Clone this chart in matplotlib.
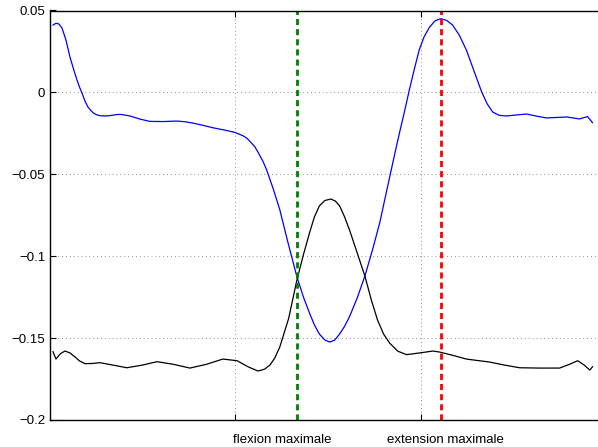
import matplotlib
matplotlib.use("Agg")
import matplotlib.pyplot as plt

# Blue curve
blue_x = [0.64, 1.18, 1.7, 2.28, 3.0, 3.73, 4.4, 5.01, 5.5, 5.92, 6.5, 7.01, 7.6, 8.1, 8.7,
          9.2, 10.1, 11.0, 11.9, 12.84, 13.7, 14.66, 16.5, 18.3, 20.8, 23.2, 24.7, 26.1, 28.0,
          29.8, 31.8, 33.8, 35.3, 36.0, 36.6, 37.4, 38.1, 38.9, 39.6, 40.8, 42.0, 43.5, 45.1,
          46.3, 47.4, 48.3, 49.2, 50.2, 51.1, 52.0, 52.9, 53.8, 54.7, 56.1, 57.5, 58.9, 60.2,
          61.5, 63.1, 63.8, 64.7, 65.6, 66.5, 67.4, 68.3, 69.3, 70.3, 71.3, 72.4, 73.5, 74.7,
          76.0, 77.4, 78.8, 79.8, 80.8, 82.0, 83.3, 85.0, 87.0, 88.8, 90.6, 92.5, 94.3, 96.6,
          98.1, 99.0]
blue_y = [0.0411, 0.0422, 0.0418, 0.0393, 0.0320, 0.0216, 0.0140, 0.0076, 0.0030, -0.0004,
          -0.0055, -0.0089, -0.0113, -0.0128, -0.0138, -0.0142, -0.0144, -0.0142, -0.0137,
          -0.0134, -0.0138, -0.0144, -0.0163, -0.0177, -0.0178, -0.0175, -0.0179, -0.0187,
          -0.0201, -0.0216, -0.0229, -0.0244, -0.0265, -0.0280, -0.0301, -0.0330, -0.0370,
          -0.0420, -0.0474, -0.0590, -0.0718, -0.0920, -0.1125, -0.1250, -0.1347, -0.1420,
          -0.1475, -0.1512, -0.1524, -0.1512, -0.1475, -0.1428, -0.1369, -0.1255, -0.1121,
          -0.0960, -0.0797, -0.0596, -0.0352, -0.0248, -0.0120, 0.0015, 0.0140, 0.0259, 0.0340,
          0.0399, 0.0437, 0.0450, 0.0440, 0.0411, 0.0350, 0.0259, 0.0130, 0.0002, -0.0070,
          -0.0120, -0.0140, -0.0144, -0.0138, -0.0132, -0.0145, -0.0156, -0.0153, -0.0150,
          -0.0162, -0.0148, -0.0185]

# Black curve
black_x = [0.64, 1.18, 2.0, 2.82, 3.7, 4.64, 5.5, 6.47, 7.8, 9.2, 11.6, 14.1, 16.9, 19.6, 22.6,
           25.6, 28.6, 31.6, 34.2, 36.2, 38.0, 39.2, 40.2, 41.1, 42.0, 43.6, 45.1, 46.3, 47.4,
           48.3, 49.2, 50.2, 51.3, 52.1, 52.9, 53.8, 54.7, 56.1, 57.5, 58.7, 59.8, 60.9, 62.0,
           63.5, 65.1, 67.4, 69.9, 71.1, 73.5, 76.0, 80.2, 83.0, 85.7, 89.3, 93.0, 94.8, 96.3,
           97.5, 98.5, 99.0]
black_y = [-0.1583, -0.1628, -0.1595, -0.1579, -0.1590, -0.1615, -0.1640, -0.1656, -0.1655,
           -0.1650, -0.1665, -0.1681, -0.1665, -0.1644, -0.1660, -0.1683, -0.1660, -0.1628,
           -0.1638, -0.1675, -0.1701, -0.1690, -0.1664, -0.1620, -0.1553, -0.1380, -0.1146,
           -0.0990, -0.0858, -0.0760, -0.0693, -0.0660, -0.0651, -0.0663, -0.0693, -0.0760,
           -0.0840, -0.0980, -0.1121, -0.1270, -0.1389, -0.1475, -0.1530, -0.1580, -0.1601,
           -0.1591, -0.1579, -0.1585, -0.1605, -0.1628, -0.1646, -0.1665, -0.1681, -0.1683,
           -0.1683, -0.1660, -0.1638, -0.1665, -0.1695, -0.1675]

flexion_x = 45.1
extension_x = 71.3
tick_pos = [33.8, 67.7]
tick_labels = ["flexion maximale", "extension maximale"]
yticks = [-0.2, -0.15, -0.1, -0.05, 0, 0.05]
ytick_labels = ["\u22120.2", "\u22120.15", "\u22120.1", "\u22120.05", "0", "0.05"]

plt.rcParams['font.family'] = ['Liberation Sans', 'DejaVu Sans']
fig = plt.figure(figsize=(5.98, 4.47), dpi=100)
ax = fig.add_axes([49.5 / 598, 27 / 447, 548.5 / 598, 409.5 / 447])

ax.plot(blue_x, blue_y, color=(0, 0, 1), lw=0.9)
ax.plot(black_x, black_y, color='black', lw=0.9)
ax.axvline(flexion_x, color=(0, 0.5, 0), lw=2, linestyle=(0, (2.2, 1.45)))
ax.axvline(extension_x, color=(1, 0, 0), lw=2, linestyle=(0, (2.2, 1.45)))

ax.set_xlim(0, 100)
ax.set_ylim(-0.2, 0.05)
ax.set_yticks(yticks)
ax.set_yticklabels(ytick_labels, fontsize=9.5)
ax.set_xticks(tick_pos)
ax.set_xticklabels(["", ""])
label_offsets = [-0.4, -6.2]
for tp, lab, off in zip(tick_pos, tick_labels, label_offsets):
    ax.text(tp + off, -0.2 - 0.0085, lab, fontsize=9.5, ha='left', va='top')

ax.grid(True, color='#777777', linestyle=(0, (0.8, 3.2)), lw=0.7)
ax.tick_params(direction='in', length=4, width=0.8, top=True, right=False, pad=3,
               colors='black')
ax.spines['right'].set_visible(False)
for s in ['left', 'top', 'bottom']:
    ax.spines[s].set_linewidth(1.0)

fig.savefig("out.png", dpi=100)
